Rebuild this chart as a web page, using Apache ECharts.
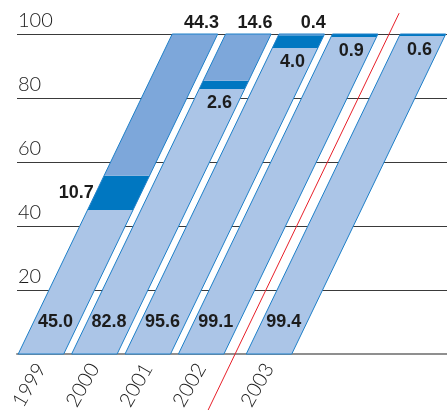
<!DOCTYPE html>
<html>
<head>
<meta charset="utf-8">
<style>
  html, body { margin: 0; padding: 0; background: #fff; }
  #chart { width: 447px; height: 411px; }
</style>
<script src="https://cdn.jsdelivr.net/npm/echarts@6/dist/echarts.min.js"></script>
</head>
<body>
<div id="chart"></div>
<script>
// Share of each year's total, stacked bottom to top (percent)
const years = ['1999', '2000', '2001', '2002', '2003'];
const lightShare = [45.0, 82.8, 95.6, 99.1, 99.4];
const darkShare = [10.7, 2.6, 4.0, 0.9, 0.6];
const midShare = [44.3, 14.6, 0.4, null, null];
const yTicks = [0, 20, 40, 60, 80, 100];

// Layout of the slanted columns, in x-axis units
const HALF_W = 0.426;        // half column width
const SLANT = 2.884;         // horizontal drift of a column from 0 to 100
const BREAK_AFTER = 3;       // index after which the series is split
const BREAK_GAP = 0.27;      // extra room left at the split
const positions = years.map((y, i) => i + (i > BREAK_AFTER ? BREAK_GAP : 0));
const breakPos = ((positions[BREAK_AFTER] + HALF_W) + (positions[BREAK_AFTER + 1] - HALF_W)) / 2;

const COLORS = { light: '#abc5e7', dark: '#0077c1', mid: '#7da7da', edge: '#1f80c9', text: '#1c1c1c' };
const LABEL_FONT = 'bold 18px "Liberation Sans", Arial, sans-serif';
const AXIS_FONT = 'Lato, "Liberation Sans", sans-serif';

const rows = years.map((y, i) => [positions[i], lightShare[i], darkShare[i], midShare[i] || 0, i]);

const chart = echarts.init(document.getElementById('chart'), null, { renderer: 'canvas' });

function slantPoint(api, pos, v, side) {
  return api.coord([pos + side * HALF_W + SLANT * v / 100, v]);
}

function slab(api, pos, v0, v1, fill) {
  return {
    type: 'polygon',
    shape: { points: [
      slantPoint(api, pos, v0, -1), slantPoint(api, pos, v0, 1),
      slantPoint(api, pos, v1, 1), slantPoint(api, pos, v1, -1)
    ] },
    style: { fill: fill, stroke: null }
  };
}

function label(text, pt, align, dx, dy) {
  return {
    type: 'text',
    style: {
      text: text, x: pt[0] + dx, y: pt[1] + dy,
      align: align, verticalAlign: 'middle',
      font: LABEL_FONT, fill: COLORS.text
    }
  };
}

function renderColumn(params, api) {
  const pos = api.value(0);
  const light = api.value(1);
  const dark = api.value(2);
  const mid = api.value(3);
  const idx = api.value(4);
  const top = light + dark + mid;
  const unit = (api.coord([0, 0])[1] - api.coord([0, 100])[1]) / 100; // px per percent
  const children = [];

  children.push(slab(api, pos, 0, light, COLORS.light));
  children.push(slab(api, pos, light, light + dark, COLORS.dark));
  if (mid > 0) children.push(slab(api, pos, light + dark, top, COLORS.mid));

  children.push({
    type: 'polygon',
    shape: { points: [
      slantPoint(api, pos, 0, -1), slantPoint(api, pos, 0, 1),
      slantPoint(api, pos, top, 1), slantPoint(api, pos, top, -1)
    ] },
    style: { fill: null, stroke: COLORS.edge, lineWidth: 1 }
  });

  // value of the base slab, near the foot of the column
  children.push(label(lightShare[idx].toFixed(1), slantPoint(api, pos, 10, 1), 'right', -6, 0));

  // value of the dark slab: beside the column when the slab sits low, else just below it
  if (light < 60) {
    const m = light + dark / 2;
    children.push(label(darkShare[idx].toFixed(1), slantPoint(api, pos, m, -1), 'right', -2, 0));
  } else {
    const vAt = light - 14 / unit;
    children.push(label(darkShare[idx].toFixed(1), slantPoint(api, pos, vAt, 1), 'right', -6, 0));
  }

  // value of the top slab, above the column
  if (mid > 0) {
    const vAbove = top + 11 / unit;
    children.push(label(midShare[idx].toFixed(1), slantPoint(api, pos, vAbove, 1), 'right', -4, 0));
  }

  return { type: 'group', children: children };
}

// thin red divider between the last two columns
function renderBreak(params, api) {
  const pos = api.value(0);
  const a = api.coord([pos + SLANT * -17.5 / 100, -17.5]);
  const b = api.coord([pos + SLANT * 106.5 / 100, 106.5]);
  return {
    type: 'line',
    shape: { x1: a[0], y1: a[1], x2: b[0], y2: b[1] },
    style: { stroke: '#e8202a', lineWidth: 1 }
  };
}

chart.setOption({
  animation: false,
  backgroundColor: '#fff',
  grid: { left: 17, right: 0, top: 34, bottom: 57, containLabel: false, outerBoundsMode: 'none' },
  xAxis: {
    type: 'value',
    min: -0.449,
    max: 7.603,
    splitLine: { show: false },
    axisTick: { show: false },
    axisLine: { show: true, lineStyle: { color: '#8f8f8f', width: 2 } },
    axisLabel: {
      customValues: positions,
      formatter: function (v) {
        const i = positions.findIndex(p => Math.abs(p - v) < 1e-6);
        return i >= 0 ? years[i] : '';
      },
      rotate: 60,
      margin: 11,
      fontFamily: AXIS_FONT,
      fontWeight: 300,
      fontSize: 20,
      color: '#1a1a1a'
    }
  },
  yAxis: {
    type: 'value',
    min: yTicks[0],
    max: yTicks[yTicks.length - 1],
    interval: 20,
    axisLine: { show: false },
    axisTick: { show: false },
    splitLine: { show: true, lineStyle: { color: '#3a3a3a', width: 1 } },
    axisLabel: {
      inside: true,
      margin: 1,
      verticalAlign: 'bottom',
      padding: [0, 0, 3, 0],
      formatter: v => (v === 0 ? '' : String(v)),
      fontFamily: AXIS_FONT,
      fontWeight: 300,
      fontSize: 20,
      color: '#1a1a1a'
    }
  },
  series: [
    {
      type: 'custom',
      renderItem: renderColumn,
      data: rows,
      encode: { x: 0, y: 1 },
      clip: false,
      z: 3
    },
    {
      type: 'custom',
      renderItem: renderBreak,
      data: [[breakPos]],
      encode: { x: 0 },
      clip: false,
      z: 4
    }
  ]
});
</script>
</body>
</html>
